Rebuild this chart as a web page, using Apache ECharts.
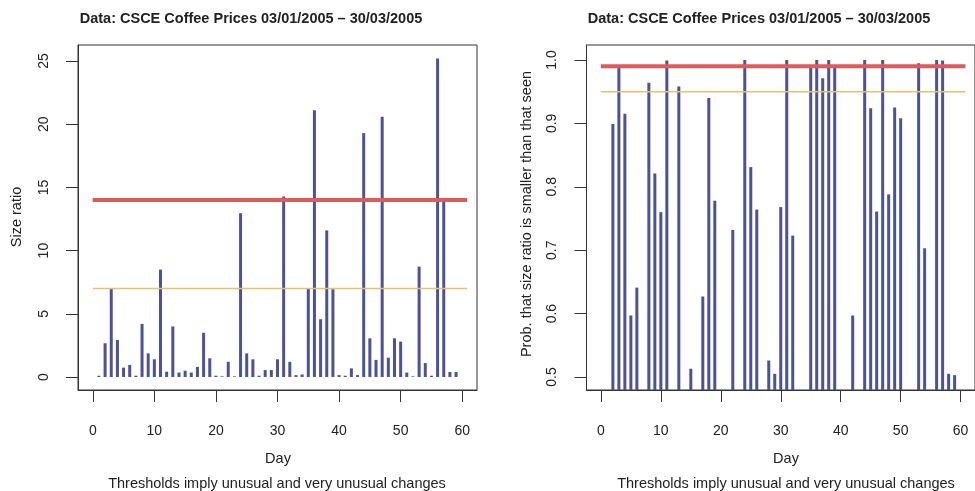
<!DOCTYPE html>
<html><head><meta charset="utf-8">
<script src="https://cdn.jsdelivr.net/npm/echarts@6/dist/echarts.min.js"></script>
<style>html,body{margin:0;padding:0;background:#fff}#c{width:975px;height:491px}</style>
</head><body><div id="c"></div>
<script>
// ---- data ----
const days = [1,2,3,4,5,6,7,8,9,10,11,12,13,14,15,16,17,18,19,20,21,22,23,24,25,26,27,28,29,30,31,32,33,34,35,36,37,38,39,40,41,42,43,44,45,46,47,48,49,50,51,52,53,54,55,56,57,58,59];
const sizeRatio = [0.1,2.67,7.0,2.93,0.74,0.95,0.1,4.2,1.87,1.4,8.5,0.42,4.0,0.35,0.5,0.35,0.8,3.5,1.48,0.1,0.05,1.2,0.05,12.96,1.87,1.4,0.1,0.55,0.55,1.4,14.28,1.2,0.15,0.2,7.0,21.1,4.57,11.6,6.95,0.15,0.1,0.68,0.15,19.3,3.06,1.35,20.6,1.53,3.06,2.8,0.35,0.05,8.73,1.1,0.1,25.2,14.0,0.4,0.4];
const probSmaller = [0.3,0.899,0.992,0.915,0.597,0.641,0.3,0.964,0.821,0.76,0.999,0.42,0.958,0.4,0.513,0.4,0.627,0.94,0.778,0.3,0.25,0.732,0.25,1.0,0.831,0.764,0.3,0.526,0.505,0.768,1.0,0.723,0.35,0.38,0.99,1.0,0.971,1.0,0.99,0.35,0.3,0.597,0.35,1.0,0.924,0.761,1.0,0.788,0.925,0.908,0.4,0.25,0.995,0.703,0.3,1.0,0.999,0.505,0.503];
const ratioThresholds = {unusual: 7, veryUnusual: 14};
const probThresholds = {unusual: 0.95, veryUnusual: 0.99};
const thresholdSpan = [0, 60.8];
const xTicks = [0,10,20,30,40,50,60];
const ratioTicks = [0,5,10,15,20,25];
const probTicks = [0.5,0.6,0.7,0.8,0.9,1.0];
const titleText = 'Data: CSCE Coffee Prices 03/01/2005 \u2013 30/03/2005';
const xName = 'Day';
const subText = 'Thresholds imply unusual and very unusual changes';
const yNameLeft = 'Size ratio';
const yNameRight = 'Prob. that size ratio is smaller than that seen';

// ---- styling ----
const FONT = '"Liberation Sans", Arial, Helvetica, sans-serif';
const AX = '#333';
const BAR = '#4c5297';
const RED = '#e05a5a';
const YEL = '#e3c468';

const chart = echarts.init(document.getElementById('c'), null, {renderer: 'canvas'});

function xAx(g) {
  return {
    type: 'value', gridIndex: g, min: -2.4, max: 62.4,
    axisLine: {show: true, onZero: false, lineStyle: {color: AX, width: 1}},
    splitLine: {show: false},
    axisTick: {show: true, inside: false, length: 12, lineStyle: {color: AX, width: 1}, customValues: xTicks},
    axisLabel: {customValues: xTicks, margin: 34, fontSize: 14, color: '#222', fontFamily: FONT}
  };
}
function yAx(g, min, max, ticks, fmt) {
  return {
    type: 'value', gridIndex: g, min: min, max: max,
    axisLine: {show: true, onZero: false, lineStyle: {color: AX, width: 1}},
    splitLine: {show: false},
    axisTick: {show: true, inside: false, length: 12, lineStyle: {color: AX, width: 1}, customValues: ticks},
    axisLabel: {customValues: ticks, rotate: 90, margin: 27, fontSize: 14, color: '#222', fontFamily: FONT, formatter: fmt}
  };
}
function hline(g, v, color, w) {
  return {type: 'line', xAxisIndex: g, yAxisIndex: g, data: thresholdSpan.map(x => [x, v]),
    symbol: 'none', silent: true, z: 5, lineStyle: {color: color, width: w}};
}
function txt(x, y, text, font, rot) {
  return {type: 'text', x: x, y: y, rotation: rot || 0, silent: true,
    style: {text: text, font: font, fill: '#222', textAlign: 'center', textVerticalAlign: 'middle', align: 'center', verticalAlign: 'middle'}};
}

const option = {
  animation: false,
  backgroundColor: '#fff',
  grid: [
    {left: 78, top: 45, width: 399, height: 345, show: true, borderColor: AX, borderWidth: 1, backgroundColor: 'transparent'},
    {left: 586.5, top: 45, width: 398.5, height: 345, show: true, borderColor: AX, borderWidth: 1, backgroundColor: 'transparent'}
  ],
  xAxis: [xAx(0), xAx(1)],
  yAxis: [
    yAx(0, -1.03, 26.27, ratioTicks, v => String(v)),
    yAx(1, 0.4795, 1.0236, probTicks, v => Number(v).toFixed(1))
  ],
  series: [
    {type: 'bar', xAxisIndex: 0, yAxisIndex: 0, barWidth: 3, clip: true,
      itemStyle: {color: BAR}, data: days.map((d, i) => [d, sizeRatio[i]])},
    hline(0, ratioThresholds.veryUnusual, RED, 4),
    hline(0, ratioThresholds.unusual, YEL, 1.5),
    {type: 'bar', xAxisIndex: 1, yAxisIndex: 1, barWidth: 3, clip: true,
      itemStyle: {color: BAR}, data: days.map((d, i) => [d, probSmaller[i]])},
    hline(1, probThresholds.veryUnusual, RED, 4),
    hline(1, probThresholds.unusual, YEL, 1.5)
  ],
  graphic: [
    txt(251, 19, titleText, 'bold 14.5px ' + FONT),
    txt(759, 19, titleText, 'bold 14.5px ' + FONT),
    txt(278, 459, xName, '14.5px ' + FONT),
    txt(786, 459, xName, '14.5px ' + FONT),
    txt(277, 484, subText, '14.5px ' + FONT),
    txt(786, 484, subText, '14.5px ' + FONT),
    txt(17, 217, yNameLeft, '14.5px ' + FONT, Math.PI / 2),
    txt(527, 214, yNameRight, '14.5px ' + FONT, Math.PI / 2)
  ]
};
chart.setOption(option);
</script></body></html>
